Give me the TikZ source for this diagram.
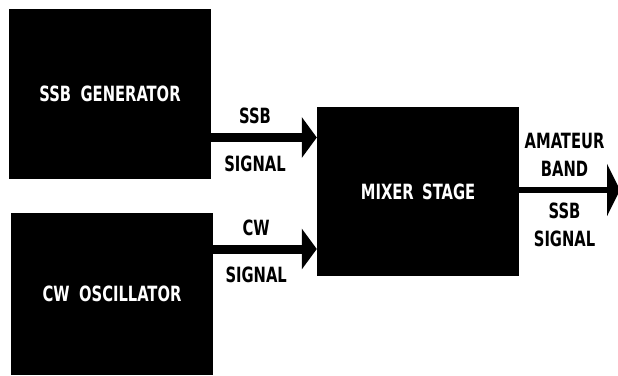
\documentclass[tikz,border=0pt]{standalone}
\usepackage{fontspec}
\setmainfont{DejaVu Sans Condensed}[FakeStretch=0.78]
\usetikzlibrary{arrows.meta,positioning}

\begin{document}
\begin{tikzpicture}[
  x=1pt, y=-1pt,
  block/.style={rectangle, fill=black, text=white, minimum width=202pt, inner sep=0pt, font=\bfseries\fontsize{21}{25}\selectfont},
  lbl/.style={font=\bfseries\fontsize{21}{28}\selectfont, align=center, inner sep=0pt},
  arrow/.style={-{Triangle[width=40pt,length=15pt]}, line width=9pt},
  outarrow/.style={-{Triangle[width=52pt,length=13pt]}, line width=6pt}
]
\useasboundingbox (0,0) rectangle (618,375);

% Blocks
\node[block, minimum height=170pt] (ssb) at (110,94) {SSB\hspace{0.45em}GENERATOR};
\node[block, minimum height=162pt] (cw) at (112,294) {CW\hspace{0.45em}OSCILLATOR};
\node[block, minimum height=169pt] (mixer) at (418,191.5) {MIXER\hspace{0.4em}STAGE};

% Rows of the arrows
\coordinate (ssbrow) at (0,137.5);
\coordinate (cwrow) at (0,249);
\coordinate (out) at (620,190);

% Arrows
\draw[arrow] (ssb.east |- ssbrow) -- node[lbl, pos=.415, above=9pt] (ssbtop) {SSB}
  node[lbl, pos=.415, below=14pt] (ssbbot) {SIGNAL} (mixer.west |- ssbrow);
\draw[arrow] (cw.east |- cwrow) -- node[lbl, pos=.415, above=9pt] (cwtop) {CW}
  node[lbl, pos=.415, below=13pt] (cwbot) {SIGNAL} (mixer.west |- cwrow);
\draw[outarrow] (mixer.east |- out) -- node[lbl, pos=.45, above=11pt] (outtop) {AMATEUR\\BAND}
  node[lbl, pos=.45, below=10pt] (outbot) {SSB\\SIGNAL} (out);

\end{tikzpicture}
\end{document}
